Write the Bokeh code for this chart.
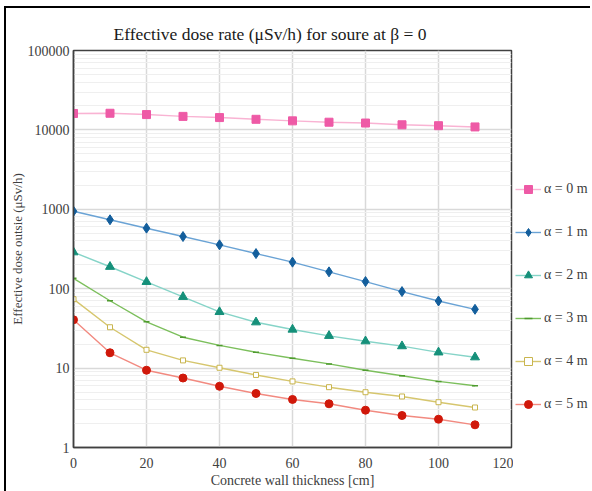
from bokeh.plotting import figure
from bokeh.layouts import row
from bokeh.models import FixedTicker, Legend, LegendItem, Range1d
from bokeh.embed import file_html
from bokeh.resources import INLINE

thickness = [0, 10, 20, 30, 40, 50, 60, 70, 80, 90, 100, 110]
a0 = [16100, 16200, 15600, 14800, 14300, 13600, 13000, 12500, 12200, 11600, 11300, 10900]
a1 = [946, 738, 578, 454, 357, 277, 216, 163, 123, 92, 70, 55]
a2 = [288, 189, 122, 79, 51, 37.8, 30.6, 25.5, 21.8, 18.9, 15.8, 13.7]
a3 = [135, 70.5, 38.3, 24.5, 19.3, 15.8, 13.3, 11.3, 9.4, 8.0, 6.8, 6.0]
a4 = [73.8, 32.7, 17.0, 12.5, 10.1, 8.2, 6.8, 5.75, 4.97, 4.39, 3.72, 3.19]
a5 = [40.6, 15.6, 9.4, 7.5, 5.9, 4.79, 4.03, 3.55, 2.95, 2.53, 2.27, 1.93]
labels = ["α = 0 m", "α = 1 m", "α = 2 m", "α = 3 m", "α = 4 m", "α = 5 m"]
y_ticks = [1, 10, 100, 1000, 10000, 100000]
x_ticks = [0, 20, 40, 60, 80, 100, 120]

SERIF = "Liberation Serif"
TXT = "#404040"
H = 483
MAIN_W, LEG_W = 507, 77
LEFT, RIGHT, TOP, BOTTOM = 65, 2, 42, 44

p = figure(width=MAIN_W, height=H, output_backend="svg", toolbar_location=None,
           y_axis_type="log", x_range=(0, 120), y_range=(1, 100000),
           min_border_left=LEFT, min_border_right=RIGHT, min_border_top=TOP,
           min_border_bottom=BOTTOM,
           title="Effective dose rate (μSv/h) for soure at β = 0")

p.title.text_font = SERIF
p.title.text_font_size = "17.5px"
p.title.text_font_style = "normal"
p.title.text_color = "#1a1a1a"
p.title.align = "left"
p.title.offset = 40
p.title.standoff = 14

p.outline_line_color = "#404040"
p.outline_line_width = 1.5

p.xaxis.ticker = FixedTicker(ticks=x_ticks)
minors = [m * 10 ** k for k in range(0, 5) for m in range(2, 10)]
p.yaxis.ticker = FixedTicker(ticks=y_ticks, minor_ticks=minors)
p.yaxis.major_label_overrides = {t: str(t) for t in y_ticks}

for ax in (p.xaxis[0], p.yaxis[0]):
    ax.major_tick_line_color = None
    ax.minor_tick_line_color = None
    ax.major_tick_out = 0
    ax.major_tick_in = 0
    ax.minor_tick_out = 0
    ax.minor_tick_in = 0
    ax.axis_line_color = "#404040"
    ax.axis_line_width = 1.5
    ax.major_label_text_font = SERIF
    ax.major_label_text_font_size = "14px"
    ax.major_label_text_color = TXT
    ax.axis_label_text_font = SERIF
    ax.axis_label_text_font_size = "14px"
    ax.axis_label_text_font_style = "normal"
    ax.axis_label_text_color = TXT

p.yaxis.axis_label_text_font_size = "13px"
p.xaxis.major_label_standoff = 10
p.xaxis.axis_label_standoff = 2
p.yaxis.major_label_standoff = 4
p.yaxis.axis_label_standoff = 0

p.xaxis.axis_label = "Concrete wall thickness [cm]"
p.yaxis.axis_label = "Effective dose outsie (μSv/h)"

p.xgrid.grid_line_color = "#D9D9D9"
p.xgrid.grid_line_width = 1.5
p.ygrid.grid_line_color = "#D9D9D9"
p.ygrid.grid_line_width = 1.5
p.ygrid.minor_grid_line_color = "#EFEFEF"
p.ygrid.minor_grid_line_width = 1

series = [a0, a1, a2, a3, a4, a5]
line_colors = ["#F9B3D3", "#6AA3D5", "#86D4C8", "#7CBF5C", "#D6C66E", "#F28A80"]
mark_colors = ["#EE5AA6", "#135E9C", "#15907A", "#4E9A2E", "#C9B54E", "#D0180A"]
markers = ["square", "diamond", "triangle", "dash", "square", "circle"]
sizes = [8, 10, 9, 6, 5, 8]
fills = mark_colors[:4] + ["white", mark_colors[5]]


def draw(fig, i, ys):
    r_line = fig.line(thickness, ys, line_color=line_colors[i], line_width=1.4)
    r_m = fig.scatter(thickness, ys, marker=markers[i], size=sizes[i],
                      fill_color=fills[i], line_color=mark_colors[i],
                      line_width=1.5 if i == 3 else 1)
    return r_line, r_m


for i, ys in enumerate(series):
    draw(p, i, ys)

# legend panel: a second, axis-less figure holding legend-only copies
lg = figure(width=LEG_W, height=H, output_backend="svg", toolbar_location=None,
            x_axis_location=None, y_axis_location=None,
            x_range=Range1d(1000, 1001), y_range=Range1d(1000, 1001),
            min_border_left=0, min_border_right=0, min_border_top=0,
            min_border_bottom=0)
lg.outline_line_color = None
lg.xgrid.visible = False
lg.ygrid.visible = False
items = []
for i, ys in enumerate(series):
    r_line, r_m = draw(lg, i, ys)
    items.append(LegendItem(label=labels[i], renderers=[r_line, r_m]))

legend = Legend(items=items, location=(2, 33), orientation="vertical",
                glyph_width=26, glyph_height=20, spacing=23, label_standoff=3,
                padding=0, margin=0, border_line_color=None,
                background_fill_alpha=0,
                label_text_font=SERIF, label_text_font_size="14px",
                label_text_color=TXT)
lg.add_layout(legend, "center")

layout = row(p, lg)
layout.styles = {"margin-left": "4px", "margin-top": "6px",
                 "border-left": "2px solid #000", "border-top": "2px solid #000",
                 "box-sizing": "border-box"}

open("out.html", "w").write(file_html(layout, INLINE))
